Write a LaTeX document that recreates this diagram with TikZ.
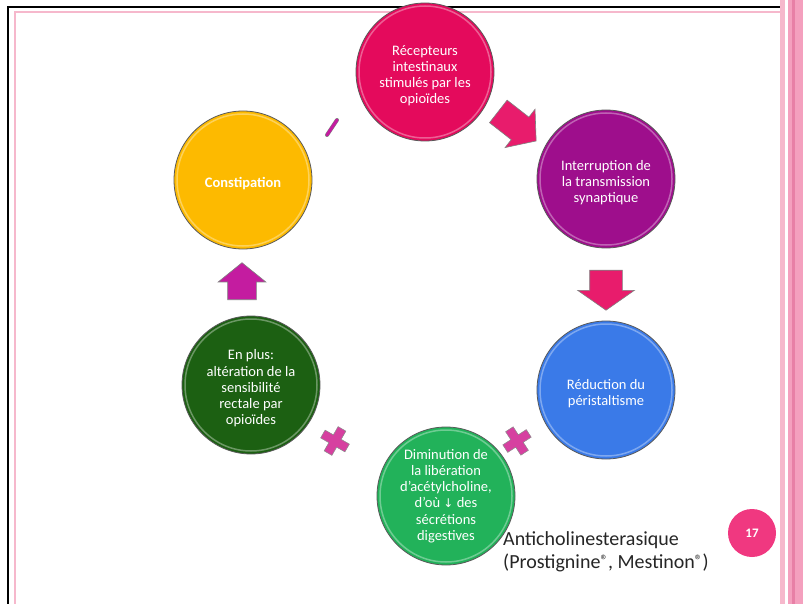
\documentclass[tikz,border=0pt]{standalone}
\usepackage{fontspec}
\setmainfont{Carlito}
\newfontfamily\arrowfont{DejaVu Sans}
\usetikzlibrary{shapes.arrows, calc}

\definecolor{recpink}{RGB}{228,10,92}
\definecolor{intpurple}{RGB}{158,14,140}
\definecolor{redblue}{RGB}{58,122,232}
\definecolor{dimgreen}{RGB}{34,178,90}
\definecolor{altgreen}{RGB}{28,96,18}
\definecolor{conyellow}{RGB}{253,186,0}
\definecolor{arrowpink}{RGB}{232,28,108}
\definecolor{uppurple}{RGB}{196,28,160}
\definecolor{crosspink}{RGB}{214,64,160}
\definecolor{numpink}{RGB}{240,56,128}
\definecolor{framepink}{RGB}{246,184,204}
\definecolor{barpink}{RGB}{244,160,190}
\definecolor{bardark}{RGB}{232,128,166}

% pushes the text of a bubble a little down
\newcommand{\lowtext}{\rule{0pt}{17pt}}
\newcommand{\regmark}{\raisebox{3pt}{\fontsize{15}{15}\selectfont ®}}
\newcommand{\downmark}{{\arrowfont\fontsize{12}{12}\selectfont ↓}}

\begin{document}
\begin{tikzpicture}[x=1pt, y=-1pt,
				   bubble/.style={circle, draw=black!65, line width=0.8pt, minimum size=138pt, inner sep=0pt, text=white, align=center, font=\fontsize{14.5}{16.2}\selectfont},
				   blockarrow/.style={single arrow, draw=black!50, line width=0.6pt, inner xsep=0pt, single arrow head indent=0pt},
				   crossmark/.style={fill=crosspink, draw=black!45, line width=0.5pt}]
\useasboundingbox (0,0) rectangle (803,604);
\fill[white] (0,0) rectangle (803,604);
% frame of the slide
\draw[framepink, line width=1.5pt] (15,604) -- (15,12) -- (780,12);
\draw[black, line width=2pt] (8,604) -- (8,7) -- (782,7);
\fill[framepink] (780,0) rectangle (785,604);
\fill[barpink] (788,0) rectangle (803,604);
\fill[bardark] (792,0) rectangle (795,604);

% cycle
\node[bubble, fill=recpink] (rec) at (425,72) {\lowtext Récepteurs\\intestinaux\\stimulés par les\\opioïdes};
\node[bubble, fill=intpurple] (int) at (606,179) {\lowtext Interruption de\\la transmission\\synaptique};
\node[bubble, fill=redblue] (red) at (606,390) {\lowtext Réduction du\\péristaltisme};
\node[bubble, fill=dimgreen] (dim) at (446,496) {Diminution de\\la libération\\d'acétylcholine,\\d'où \downmark{} des\\sécrétions\\digestives};
\node[bubble, fill=altgreen] (alt) at (251,385) {\lowtext En plus:\\altération de la\\sensibilité\\rectale par\\opioïdes};
\node[bubble, fill=conyellow, font=\bfseries\fontsize{14.5}{16.2}\selectfont] (con) at (243,180) {\lowtext Constipation};
\foreach \n in {rec,int,red,dim,alt,con}
	\draw[white, opacity=0.35, line width=1.5pt] (\n.center) circle (66);

% arrows between the steps
\node[blockarrow, fill=arrowpink, inner ysep=14pt, minimum height=48pt, single arrow head extend=10pt, single arrow tip angle=100, rotate=-38] (a1) at ($(rec)!0.5!(int)+(-3,-3)$) {};
\node[blockarrow, fill=arrowpink, inner ysep=16pt, minimum height=40pt, single arrow head extend=12pt, single arrow tip angle=110, rotate=-90] (a2) at ($(int)!0.5!(red)$) {};
\node[blockarrow, fill=uppurple, inner ysep=14pt, minimum height=37pt, single arrow head extend=9.5pt, single arrow tip angle=102, rotate=90] (a5) at (242,287) {};
\coordinate (x1) at (517,441);
\coordinate (x2) at (335,441);
\draw[crossmark, shift={(x1)}, rotate=33] (-14,-4.5) -- (-4.5,-4.5) -- (-4.5,-14) -- (4.5,-14) -- (4.5,-4.5) -- (14,-4.5) -- (14,4.5) -- (4.5,4.5) -- (4.5,14) -- (-4.5,14) -- (-4.5,4.5) -- (-14,4.5) -- cycle;
\draw[crossmark, shift={(x2)}, rotate=-30] (-14,-4.5) -- (-4.5,-4.5) -- (-4.5,-14) -- (4.5,-14) -- (4.5,-4.5) -- (14,-4.5) -- (14,4.5) -- (4.5,4.5) -- (4.5,14) -- (-4.5,14) -- (-4.5,4.5) -- (-14,4.5) -- cycle;
\coordinate (s6) at (332,128);
\draw[draw=black!50, line width=0.5pt, double=uppurple, double distance=3pt, line cap=round] ($(s6)+(-5,7)$) -- ($(s6)+(5,-8)$);

% note and page number
\node[anchor=north west, align=left, inner sep=0pt, text=black!85, font=\fontsize{20}{23}\selectfont] (anti) at (503,531) {Anticholinesterasique\\(Prostignine\regmark, Mestinon\regmark)};
\node[circle, fill=numpink, minimum size=48pt, inner sep=0pt, text=white, font=\bfseries\fontsize{13}{15}\selectfont] (page) at (752,533) {17};
\end{tikzpicture}
\end{document}
